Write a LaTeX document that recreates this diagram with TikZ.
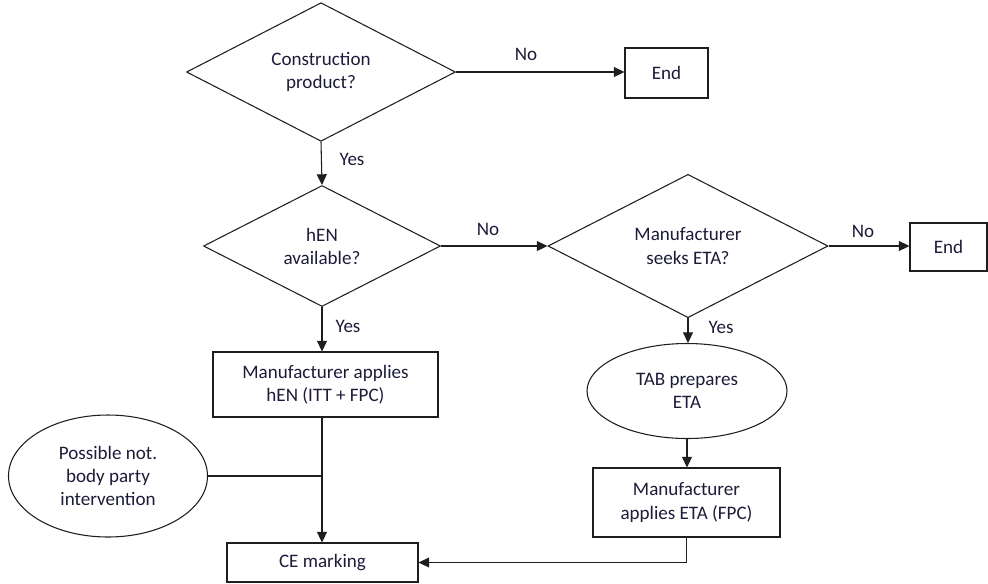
\documentclass[tikz,border=0pt]{standalone}
\usepackage{fontspec}
\setmainfont{Carlito}
\usetikzlibrary{shapes.geometric,arrows.meta}
\definecolor{txt}{RGB}{28,28,58}
\definecolor{ln}{RGB}{30,30,30}
\begin{document}
\begin{tikzpicture}[x=0.75pt,y=-0.75pt,
  every node/.style={font=\fontsize{14.3}{17.3}\selectfont, text=txt},
  base/.style={draw=ln, line width=0.8pt, inner sep=0pt, align=center},
  dec/.style={base, diamond},
  box/.style={base, rectangle},
  oval/.style={base, ellipse},
  conn/.style={draw=ln, line width=0.8pt, -{Triangle[length=8pt,width=7.5pt]}},
  plain/.style={draw=ln, line width=0.8pt},
  lbl/.style={inner sep=0pt}]
\useasboundingbox (0,0) rectangle (988,583);

% decisions
\node[dec, minimum width=201.75pt, minimum height=93pt] (d1) at (321,72) {Construction\\product?};
\node[dec, minimum width=177.75pt, minimum height=90.75pt] (d2) at (322,246) {hEN\\available?};
\node[dec, minimum width=210pt, minimum height=90pt] (d3) at (688,246) {Manufacturer\\seeks ETA?};

% end boxes
\node[box, minimum width=62.25pt, minimum height=37.5pt] (e1) at (666.5,73) {End};
\node[box, minimum width=57.75pt, minimum height=36pt] (e2) at (948.5,247) {End};

% process boxes
\node[box, minimum width=168.75pt, minimum height=48.75pt] (hen) at (325.5,384.5) {Manufacturer applies\\hEN (ITT + FPC)};
\node[oval, minimum width=150pt, minimum height=71.25pt] (tab) at (687,391) {TAB prepares\\ETA};
\node[box, minimum width=140.25pt, minimum height=51.75pt] (eta) at (686.5,502.5) {Manufacturer\\applies ETA (FPC)};
\node[oval, minimum width=149.25pt, minimum height=91.5pt] (poss) at (108,476) {Possible not.\\body party\\intervention};
\node[box, minimum width=143.25pt, minimum height=29.25pt] (ce) at (322.5,562.5) {CE marking};

% connectors
\draw[conn] (d1.east) -- (d1.east -| e1.west);
\draw[conn] (d1.south) -- (d2.north);
\draw[conn] (d2.east) -- (d3.west);
\draw[conn] (d3.east) -- (d3.east -| e2.west);
\draw[conn] (d3.south) -- (d3.south |- tab.north);
\draw[conn] (tab.south) -- (tab.south |- eta.north);
\draw[conn] (d2.south) -- (d2.south |- hen.north);
\coordinate (hb) at (d2.south |- hen.south);
\draw[conn] (hb) -- (hb |- ce.north);
\coordinate (pj) at (poss.east -| hb);
\draw[plain] (poss.east) -- (pj);
\coordinate (eb) at (eta.south |- ce.east);
\draw[conn] (eta.south) -- (eb) -- (ce.east);

% labels
\node[lbl] at (526,54) {No};
\node[lbl] at (352,159) {Yes};
\node[lbl] at (488,229) {No};
\node[lbl] at (863,231) {No};
\node[lbl] at (721,327) {Yes};
\node[lbl] at (348,326) {Yes};
\end{tikzpicture}
\end{document}
